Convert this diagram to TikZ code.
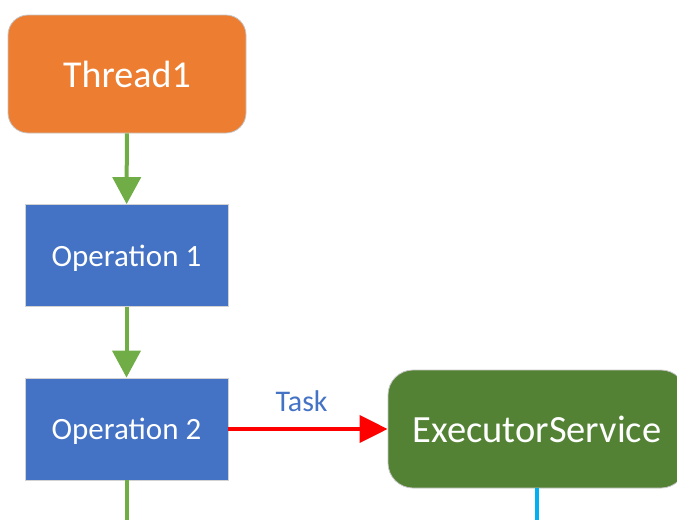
\documentclass[tikz,border=0pt]{standalone}
\usepackage{fontspec}
\setmainfont{Carlito}
\usetikzlibrary{arrows.meta}
\definecolor{thorange}{HTML}{ED7D31}
\definecolor{opblue}{HTML}{4472C4}
\definecolor{flowgreen}{HTML}{70AD47}
\definecolor{exgreen}{HTML}{548235}
\definecolor{excyan}{HTML}{00B0F0}
\begin{document}
\begin{tikzpicture}[x=1pt,y=-1pt,
    box/.style={draw=gray!45, line width=0.8pt, text=white, inner sep=0pt, text depth=0pt},
    flow/.style={flowgreen, line width=4pt, -{Triangle[length=27pt,width=28pt]}},
    tip/.style={-{Triangle[length=28pt,width=27pt]}}]
    \useasboundingbox (0,0) rectangle (677,520);
    \node[box, fill=thorange, rounded corners=20pt, minimum width=238pt, minimum height=118pt, font=\fontsize{38}{40}\selectfont] (thread) at (127,74) {Thread1};
    \node[box, fill=opblue, draw=gray!35, minimum width=203pt, minimum height=102pt, font=\fontsize{31}{33}\selectfont] (op1) at (126.5,255.5) {Operation 1};
    \node[box, fill=opblue, draw=gray!35, minimum width=203pt, minimum height=102pt, font=\fontsize{31}{33}\selectfont] (op2) at (126.5,429) {Operation 2};
    \node[box, fill=exgreen, rounded corners=25pt, minimum width=298pt, minimum height=118pt, font=\fontsize{38.5}{40}\selectfont] (exec) at (537,429) {ExecutorService};
    \coordinate (out1) at (126.5,520) ; 
    \coordinate (out2) at (537,520) ; 
    \draw[flow] (thread) -- (op1);
    \draw[flow] (op1) -- (op2);
    \draw[flowgreen, line width=4pt] (op2) -- (out1);
    \draw[red, line width=4pt, tip] (op2) -- node[pos=0.46, above, inner sep=0pt, yshift=15pt, text=opblue, font=\fontsize{30}{32}\selectfont]{Task} (exec);
    \draw[excyan, line width=4pt] (exec) -- (out2);
\end{tikzpicture}
\end{document}
